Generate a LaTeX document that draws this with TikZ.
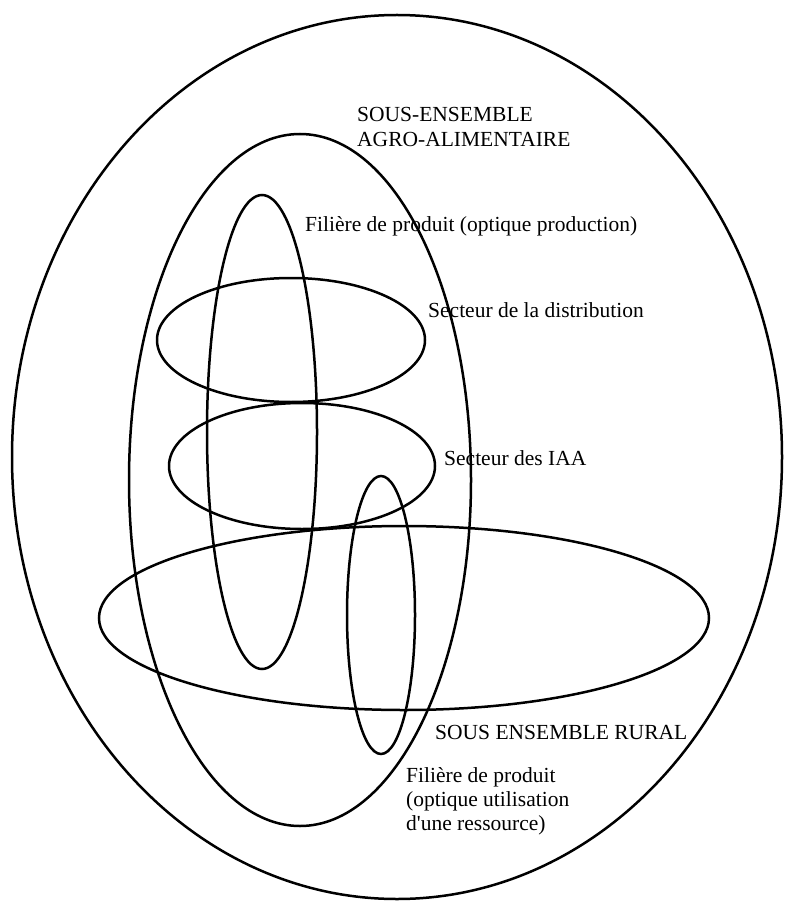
\documentclass[tikz,border=0pt]{standalone}
\usepackage{fontspec}
\setmainfont{Liberation Serif}
\begin{document}
\begin{tikzpicture}[x=1pt,y=-1pt,
  ring/.style={draw=black,line width=2.5pt},
  lbl/.style={anchor=base west,inner sep=0pt,font=\fontsize{21.5}{25}\selectfont}]
\useasboundingbox[fill=white] (0,0) rectangle (785,901);
% outer set
\draw[ring] (397,457) ellipse [x radius=385pt, y radius=442pt];
% sous-ensemble agro-alimentaire
\draw[ring] (300,480) ellipse [x radius=171pt, y radius=346pt];
% filiere de produit (production)
\draw[ring] (262,432) ellipse [x radius=55pt, y radius=237pt];
% secteur de la distribution
\draw[ring] (291,340) ellipse [x radius=134pt, y radius=62pt];
% secteur des IAA
\draw[ring] (302,466) ellipse [x radius=133pt, y radius=63pt];
% filiere de produit (utilisation ressource)
\draw[ring] (381,615) ellipse [x radius=34pt, y radius=139pt];
% sous ensemble rural
\draw[ring] (404,618) ellipse [x radius=305pt, y radius=92pt];
% labels
\node[lbl] (agro1) at (357,122) {SOUS-ENSEMBLE};
\node[lbl] (agro2) at (357,147) {AGRO-ALIMENTAIRE};
\node[lbl] (fprod) at (305,232) {Filière de produit (optique production)};
\node[lbl] (sdist) at (428,317) {Secteur de la distribution};
\node[lbl] (siaa) at (444,465) {Secteur des IAA};
\node[lbl] (rural) at (435,739) {SOUS ENSEMBLE RURAL};
\node[lbl] (fres1) at (406,782) {Filière de produit};
\node[lbl] (fres2) at (406,806) {(optique utilisation};
\node[lbl] (fres3) at (406,830) {d\textquotesingle une ressource)};
\end{tikzpicture}
\end{document}
